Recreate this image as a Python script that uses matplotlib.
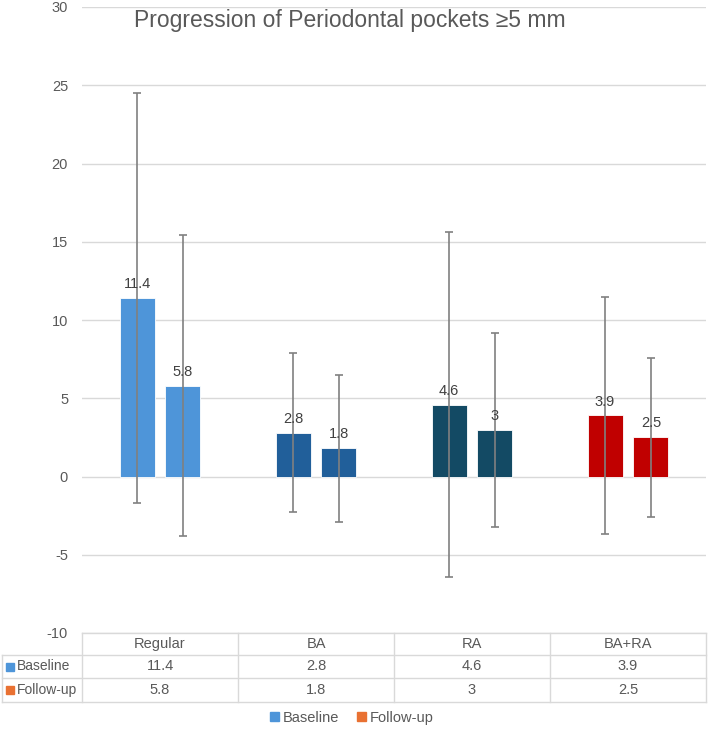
import numpy as np
import matplotlib
matplotlib.use("Agg")
import matplotlib.pyplot as plt
from matplotlib.patches import Patch
from matplotlib.lines import Line2D

plt.rcParams['font.family'] = ['Liberation Sans Narrow', 'Liberation Sans', 'DejaVu Sans']
plt.rcParams['axes.unicode_minus'] = False

#? Data
groups = ["Regular", "BA", "RA", "BA+RA"]
series = ["Baseline", "Follow-up"]
baseline = [11.4, 2.8, 4.6, 3.9]
followup = [5.8, 1.8, 3, 2.5]
baseline_sd = [13.1, 5.1, 11.0, 7.6]
followup_sd = [9.6, 4.7, 6.2, 5.1]
group_colors = ["#4E95D9", "#215F9A", "#134A64", "#C00000"]
legend_colors = ["#4E95D9", "#E97132"]

W, H = 708, 733
fig = plt.figure(figsize=(W / 100, H / 100), dpi=100)
# axes in pixel coords: left 82, right 706, top 7, bottom 633
ax = fig.add_axes([82 / W, 1 - 633 / H, (706 - 82) / W, (633 - 7) / H])

grey_txt = "#595959"
grid_c = "#D9D9D9"

x = np.arange(len(groups))
bw = 0.224
off = 0.147

ax.bar(x - off, baseline, bw, color=group_colors, edgecolor="white", linewidth=0.6, zorder=2)
ax.bar(x + off, followup, bw, color=group_colors, edgecolor="white", linewidth=0.6, zorder=2)
ax.errorbar(x - off, baseline, yerr=baseline_sd, fmt="none", ecolor="#808080",
            elinewidth=1.2, capsize=3, capthick=1.2, zorder=3)
ax.errorbar(x + off, followup, yerr=followup_sd, fmt="none", ecolor="#808080",
            elinewidth=1.2, capsize=3, capthick=1.2, zorder=3)

for xi, v in zip(x - off, baseline):
    ax.annotate(f"{v:g}", (xi, v), xytext=(0, 5), textcoords="offset points",
                ha="center", va="bottom", fontsize=10.5, color="#404040", zorder=4)
for xi, v in zip(x + off, followup):
    ax.annotate(f"{v:g}", (xi, v), xytext=(0, 5), textcoords="offset points",
                ha="center", va="bottom", fontsize=10.5, color="#404040", zorder=4)

ax.set_xlim(-0.5, len(groups) - 0.5)
ax.set_ylim(-10, 30)
ax.set_yticks(np.arange(-10, 31, 5))
ax.yaxis.grid(True, color=grid_c, linewidth=1)
ax.set_axisbelow(True)
ax.set_xticks([])
ax.tick_params(axis="y", length=0, pad=10, labelsize=10.5, labelcolor=grey_txt)
for s in ax.spines.values():
    s.set_visible(False)

#? Data table under the plot (drawn by hand in pixel coords)
def px(xp, yp):
    return xp / W, 1 - yp / H

def hline(y, x0, x1):
    fig.add_artist(Line2D([x0 / W, x1 / W], [1 - y / H, 1 - y / H], color=grid_c, lw=1))

def vline(xp, y0, y1):
    fig.add_artist(Line2D([xp / W, xp / W], [1 - y0 / H, 1 - y1 / H], color=grid_c, lw=1))

row_y = [633, 655, 678, 702]
hline(row_y[0], 82, 706)
for yy in row_y[1:]:
    hline(yy, 2, 706)
vline(2, row_y[1], row_y[3])
col_w = (706 - 82) / len(groups)
for i in range(len(groups) + 1):
    vline(82 + i * col_w, row_y[0], row_y[3])

for i, g in enumerate(groups):
    cx = 82 + (i + 0.5) * col_w
    fig.text(*px(cx, (row_y[0] + row_y[1]) / 2), g, ha="center", va="center",
             fontsize=10.5, color=grey_txt)
    fig.text(*px(cx, (row_y[1] + row_y[2]) / 2), f"{baseline[i]:g}", ha="center", va="center",
             fontsize=10.5, color=grey_txt)
    fig.text(*px(cx, (row_y[2] + row_y[3]) / 2), f"{followup[i]:g}", ha="center", va="center",
             fontsize=10.5, color=grey_txt)

for r, (name, c) in enumerate(zip(series, legend_colors)):
    yc = (row_y[r + 1] + row_y[r + 2]) / 2
    fig.add_artist(plt.Rectangle(px(6, yc + 4), 8 / W, 8 / H, color=c))
    fig.text(*px(17, yc), name, ha="left", va="center", fontsize=10, color=grey_txt)

#? Title + legend
fig.text(*px(350, 20), "Progression of Periodontal pockets \u22655 mm", ha="center", va="center",
         fontsize=16.5, color=grey_txt)

handles = [Patch(color=c, label=s) for s, c in zip(series, legend_colors)]
fig.legend(handles=handles, loc="center", bbox_to_anchor=px(352, 718), ncol=2, frameon=False,
           fontsize=10.5, handlelength=0.6, handleheight=0.6, handletextpad=0.3,
           columnspacing=1.2, labelcolor=grey_txt)

fig.savefig("out.png", dpi=100, facecolor="white")
